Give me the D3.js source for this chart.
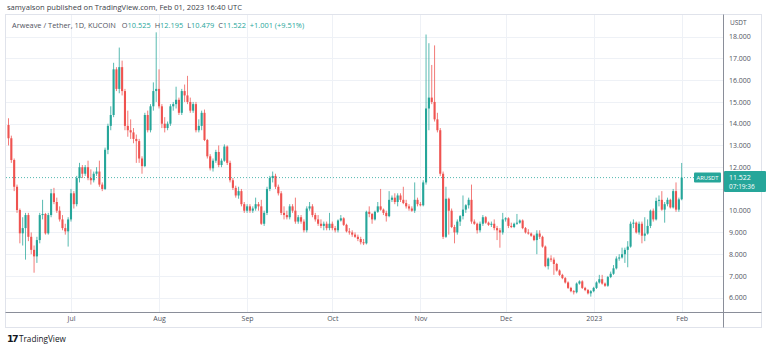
<!DOCTYPE html>
<html><head><meta charset="utf-8">
<script src="https://cdn.jsdelivr.net/npm/d3@7/dist/d3.min.js"></script>
<style>
body{margin:0;background:#fff;}
svg{display:block;font-family:"Open Sans","Noto Sans",Arial,sans-serif;}
</style>
</head><body>
<svg id="chart" width="768" height="349"></svg>
<script>
// ---------------- DATA ----------------
const firstDay = "2022-06-09";
const opens = [13.94,13.33,12.33,11.1,10.03,8.96,9.2,9.8,8.8,8.2,7.9,8.65,9.8,9.85,8.96,9.8,10.8,10.4,10.0,9.6,9.2,9.05,
 9.6,10.8,10.3,11.5,12.0,11.7,12.0,11.5,11.4,11.7,11.8,11.2,11.0,12.8,13.9,14.4,16.5,15.6,16.6,15.5,13.9,13.7,13.6,13.3,13.2,12.4,12.05,14.4,13.7,14.8,15.5,
 15.6,14.8,14.0,13.8,14.0,14.8,14.9,15.1,14.5,15.5,15.3,15.0,14.6,14.9,13.7,13.9,14.5,13.25,12.5,11.95,12.3,12.7,12.1,12.3,12.95,12.2,11.4,11.05,10.7,10.9,10.3,
 10.0,10.2,10.0,10.1,10.3,10.2,9.4,9.9,11.0,11.5,11.6,11.1,10.8,9.9,9.8,9.7,10.2,10.0,9.5,9.7,9.5,9.1,10.1,10.2,9.8,9.6,9.4,9.3,9.4,9.2,
 9.4,9.2,9.1,9.55,9.65,9.35,9.05,9.0,8.9,8.8,8.7,8.55,8.5,9.95,9.85,9.6,9.95,10.2,10.05,9.9,9.75,10.5,10.6,10.4,10.7,10.5,10.35,10.2,10.1,10.0,10.5,
 10.3,10.25,11.3,14.7,15.2,15.0,14.2,13.7,11.7,8.8,10.55,10.0,9.25,9.0,9.5,9.75,10.05,10.25,10.5,9.5,9.4,9.1,9.4,9.7,9.45,9.35,9.4,9.2,9.1,9.0,
 9.6,9.65,9.3,9.25,9.4,9.45,9.55,9.2,9.0,8.95,8.85,8.65,8.95,8.8,8.35,7.45,7.8,7.75,7.55,7.25,7.05,6.9,6.7,6.45,6.3,6.25,6.65,6.75,6.45,6.35,6.2,
 6.3,6.45,6.7,6.85,6.65,6.55,6.95,7.1,7.35,7.8,7.85,8.0,8.2,8.35,9.4,9.45,9.0,9.4,8.85,8.95,9.3,10.0,9.6,10.45,10.5,10.05,10.3,10.5,10.15,10.9,10.05,
 10.525];
const highs = [14.25,13.45,12.4,11.2,10.1,9.7,9.9,9.9,9.0,8.4,8.8,9.9,10.5,9.9,9.9,11.0,11.05,10.6,10.2,9.8,9.4,9.7,
 11.0,10.9,11.6,12.2,12.1,12.1,12.3,11.9,11.8,12.0,12.3,11.3,12.9,14.0,14.8,16.8,16.6,17.5,16.9,15.6,14.6,14.2,13.8,13.5,13.3,12.5,14.5,14.6,14.9,15.9,18.2,
 16.5,14.9,14.3,14.1,14.9,15.0,15.7,15.2,15.6,15.8,16.2,15.2,15.0,15.0,14.2,14.6,14.65,13.3,12.6,12.4,12.8,13.0,12.4,13.05,13.0,12.3,11.5,11.15,11.1,11.0,10.4,
 10.3,10.3,10.2,10.6,10.4,10.5,10.0,11.1,11.6,11.8,11.7,11.2,10.9,10.2,10.0,10.3,10.3,10.6,9.8,9.8,9.6,10.2,10.4,10.3,9.9,9.8,9.6,9.5,9.5,9.9,
 9.5,9.3,9.6,9.8,9.7,9.4,9.2,9.1,9.0,8.9,8.8,8.7,10.0,10.2,9.9,10.0,10.4,11.0,10.1,10.0,10.9,10.7,10.8,10.8,10.8,11.1,10.5,10.3,10.2,11.3,10.6,
 10.4,11.4,18.1,17.7,16.7,17.6,14.5,13.8,11.8,11.1,10.6,10.1,9.35,9.6,9.8,10.7,10.3,10.6,11.2,9.6,9.45,9.5,9.8,9.75,9.5,9.5,9.6,9.3,9.2,9.9,
 9.7,9.7,9.45,9.45,9.85,9.6,9.6,9.25,9.15,9.0,8.9,9.1,9.1,8.85,8.4,7.85,7.95,7.85,7.6,7.3,7.1,6.95,6.75,6.5,6.35,6.7,6.8,6.8,6.5,6.4,6.35,
 6.5,6.75,7.05,7.05,6.7,7.0,7.2,7.5,7.9,8.0,8.3,8.3,8.6,9.5,9.6,9.5,9.5,9.5,9.7,9.6,10.05,10.1,10.6,10.7,10.9,10.4,10.6,10.55,11.0,11.3,10.6,
 12.195];
const lows = [13.0,12.2,10.9,9.9,8.5,8.4,7.75,8.6,8.0,7.15,7.6,8.5,9.6,8.9,8.9,9.7,10.3,9.9,9.5,9.1,8.9,8.35,
 9.5,10.1,10.2,11.3,11.5,11.6,11.4,11.2,11.3,11.6,11.1,10.9,10.95,12.6,13.7,14.3,15.5,15.4,15.3,13.7,13.4,13.3,13.1,12.2,12.2,11.7,12.0,13.6,13.6,14.6,15.0,
 14.7,13.8,13.6,13.7,13.9,14.6,14.7,14.4,14.4,15.0,14.9,14.5,14.5,13.6,13.6,13.7,13.2,12.4,11.85,11.8,12.2,12.0,12.0,12.25,12.1,11.3,10.95,10.6,10.55,10.2,9.9,
 9.9,9.9,9.9,10.0,10.0,9.35,9.3,9.8,10.9,11.3,11.0,10.7,9.8,9.6,9.6,9.6,9.9,9.4,9.4,9.4,9.0,9.0,10.0,9.7,9.5,9.3,9.2,9.1,9.1,9.1,
 9.1,9.0,9.0,9.5,9.3,9.0,8.9,8.8,8.75,8.6,8.45,8.42,8.45,9.7,9.4,9.55,9.9,10.0,9.8,9.5,9.7,10.4,10.3,10.2,10.4,10.3,10.1,10.0,9.95,9.9,10.2,
 10.2,10.2,11.2,13.7,14.9,14.1,13.6,11.6,8.7,8.75,8.9,9.2,8.5,8.9,9.3,9.6,9.9,10.1,9.4,9.35,8.95,9.0,9.3,9.4,9.3,9.25,9.1,8.65,8.3,8.9,
 9.5,9.2,9.2,9.2,9.35,9.4,9.15,8.95,8.9,8.8,8.6,8.0,8.7,8.3,7.4,7.3,7.65,7.05,7.2,7.0,6.85,6.65,6.4,6.25,6.15,6.2,6.6,6.4,6.3,6.15,6.05,
 6.25,6.4,6.65,6.6,6.5,6.5,6.9,7.05,7.3,7.7,7.8,7.6,7.4,8.3,9.2,8.95,8.9,8.5,8.6,8.9,9.2,9.5,9.55,10.2,10.0,9.45,10.2,10.1,10.1,9.95,9.95,
 10.479];
const closes = [13.33,12.33,11.1,10.03,8.96,9.2,9.8,8.8,8.2,7.9,8.65,9.8,9.85,8.96,9.8,10.8,10.4,10.0,9.6,9.2,9.05,9.6,
 10.8,10.3,11.5,12.0,11.7,12.0,11.5,11.4,11.7,11.8,11.2,11.0,12.8,13.9,14.4,16.5,15.6,16.6,15.5,13.9,13.7,13.6,13.3,13.2,12.4,12.05,14.4,13.7,14.8,15.5,15.6,
 14.8,14.0,13.8,14.0,14.8,14.9,15.1,14.5,15.5,15.3,15.0,14.6,14.9,13.7,13.9,14.5,13.25,12.5,11.95,12.3,12.7,12.1,12.3,12.95,12.2,11.4,11.05,10.7,10.9,10.3,10.0,
 10.2,10.0,10.1,10.3,10.2,9.4,9.9,11.0,11.5,11.6,11.1,10.8,9.9,9.8,9.7,10.2,10.0,9.5,9.7,9.5,9.1,10.1,10.2,9.8,9.6,9.4,9.3,9.4,9.2,9.4,
 9.2,9.1,9.55,9.65,9.35,9.05,9.0,8.9,8.8,8.7,8.55,8.5,9.95,9.85,9.6,9.95,10.2,10.05,9.9,9.75,10.5,10.6,10.4,10.7,10.5,10.35,10.2,10.1,10.0,10.5,10.3,
 10.25,11.3,14.7,15.2,15.0,14.2,13.7,11.7,8.8,10.55,10.0,9.25,9.0,9.5,9.75,10.05,10.25,10.5,9.5,9.4,9.1,9.4,9.7,9.45,9.35,9.4,9.2,9.1,9.0,9.6,
 9.65,9.3,9.25,9.4,9.45,9.55,9.2,9.0,8.95,8.85,8.65,8.95,8.8,8.35,7.45,7.8,7.75,7.55,7.25,7.05,6.9,6.7,6.45,6.3,6.25,6.65,6.75,6.45,6.35,6.2,6.3,
 6.45,6.7,6.85,6.65,6.55,6.95,7.1,7.35,7.8,7.85,8.0,8.2,8.35,9.4,9.45,9.0,9.4,8.85,8.95,9.3,10.0,9.6,10.45,10.5,10.05,10.3,10.5,10.15,10.9,10.05,10.521,
 11.522];
const priceTicks = [6,7,8,9,10,11,12,13,14,15,16,17,18];
const monthTicks = ["2022-07-01","2022-08-01","2022-09-01","2022-10-01","2022-11-01","2022-12-01","2023-01-01","2023-02-01"];
const monthLabels = ["Jul","Aug","Sep","Oct","Nov","Dec","2023","Feb"];
const lastPrice = 11.522;
const countdown = "07:19:36";
const symbolLabel = "ARUSDT";

// ---------------- LAYOUT ----------------
const UP = "#26a69a", DOWN = "#ef5350";
const svg = d3.select("#chart");
const parse = d3.utcParse("%Y-%m-%d");
const d0 = parse(firstDay);
const data = closes.map((c, i) => ({date: d3.utcDay.offset(d0, i), o: opens[i], h: highs[i], l: lows[i], c}));

const plot = {left: 6, right: 723, top: 15, bottom: 312};
const x = d3.scaleUtc().domain([d0, parse("2023-02-01")]).range([8.5, 681.7]);
const y = d3.scaleLinear().domain([6, 18]).range([297.7, 36.7]);

// frame
svg.append("rect").attr("x", 5.5).attr("y", 14.5).attr("width", 756).attr("height", 313)
  .attr("fill", "none").attr("stroke", "#e0e3eb");

// grid
const g = svg.append("g");
g.selectAll(".hg").data(priceTicks).join("line")
  .attr("x1", plot.left).attr("x2", plot.right)
  .attr("y1", d => Math.round(y(d)) + 0.5).attr("y2", d => Math.round(y(d)) + 0.5)
  .attr("stroke", "#eef1f6");
g.selectAll(".vg").data(monthTicks).join("line")
  .attr("x1", d => Math.round(x(parse(d))) + 0.5).attr("x2", d => Math.round(x(parse(d))) + 0.5)
  .attr("y1", plot.top).attr("y2", plot.bottom)
  .attr("stroke", "#eef1f6");

// candles
const cg = svg.append("g");
cg.selectAll(".wick").data(data).join("line")
  .attr("x1", d => x(d.date)).attr("x2", d => x(d.date))
  .attr("y1", d => y(d.h)).attr("y2", d => y(d.l))
  .attr("stroke", d => d.c >= d.o ? UP : DOWN).attr("stroke-width", 0.9).attr("opacity", 0.85);
cg.selectAll(".body").data(data).join("rect")
  .attr("x", d => x(d.date) - 1.05).attr("width", 2.1)
  .attr("y", d => y(Math.max(d.o, d.c)))
  .attr("height", d => Math.max(0.8, Math.abs(y(d.o) - y(d.c))))
  .attr("fill", d => d.c >= d.o ? UP : DOWN);

// last price dotted line
svg.append("line").attr("x1", plot.left).attr("x2", plot.right)
  .attr("y1", y(lastPrice)).attr("y2", y(lastPrice))
  .attr("stroke", UP).attr("stroke-width", 0.8).attr("stroke-dasharray", "1,2");

// price axis separator & time axis separator
svg.append("line").attr("x1", plot.right + 0.5).attr("x2", plot.right + 0.5).attr("y1", 14.5).attr("y2", 327.5).attr("stroke", "#8a8e99");
svg.append("line").attr("x1", 5.5).attr("x2", 761.5).attr("y1", plot.bottom + 0.5).attr("y2", plot.bottom + 0.5).attr("stroke", "#8a8e99");

// price axis
const yAxis = d3.axisRight(y).tickValues(priceTicks.filter(v => v !== 11))
  .tickFormat(d3.format(".3f")).tickSize(0).tickPadding(6);
const ya = svg.append("g").attr("transform", `translate(${plot.right},0)`).call(yAxis);
ya.select(".domain").remove();
ya.selectAll("text").attr("font-size", 7).attr("fill", "#50535e").attr("font-family", "Open Sans, sans-serif");

svg.append("text").attr("x", 730).attr("y", 25).text("USDT")
  .attr("font-size", 6.5).attr("fill", "#50535e");

// time axis
const xAxis = d3.axisBottom(x).tickValues(monthTicks.map(parse))
  .tickFormat((d, i) => monthLabels[i]).tickSize(0).tickPadding(4);
const xa = svg.append("g").attr("transform", `translate(0,${plot.bottom})`).call(xAxis);
xa.select(".domain").remove();
xa.selectAll("text").attr("font-size", 7).attr("fill", "#50535e").attr("font-family", "Open Sans, sans-serif");

// price label on axis
const py = y(lastPrice);
svg.append("rect").attr("x", 724).attr("y", py - 6.5).attr("width", 42).attr("height", 21).attr("fill", UP).attr("rx", 1);
svg.append("text").attr("x", 729).attr("y", py + 2.3).text(d3.format(".3f")(lastPrice))
  .attr("font-size", 7).attr("fill", "#fff");
svg.append("text").attr("x", 729).attr("y", py + 11).text(countdown)
  .attr("font-size", 6.5).attr("fill", "#fff");
// symbol label
svg.append("rect").attr("x", 694).attr("y", py - 5).attr("width", 27).attr("height", 10).attr("fill", UP).attr("rx", 1);
svg.append("text").attr("x", 707.5).attr("y", py + 2.2).attr("text-anchor", "middle").text(symbolLabel)
  .attr("font-size", 5.8).attr("fill", "#fff");

// header
svg.append("text").attr("x", 7).attr("y", 10).text("samyalson published on TradingView.com, Feb 01, 2023 16:40 UTC")
  .attr("font-size", 7.6).attr("fill", "#3b3e48");

// legend
const last = data[data.length - 1];
const prev = data[data.length - 2];
const chg = last.c - prev.c;
const leg = svg.append("text").attr("x", 12).attr("y", 27.5).attr("font-size", 7.4);
leg.append("tspan").text("Arweave / Tether, 1D, KUCOIN").attr("fill", "#50535e");
const fmt = d3.format(".3f");
[["O", last.o], ["H", last.h], ["L", last.l], ["C", last.c]].forEach(([k, v], i) => {
  leg.append("tspan").attr("dx", i === 0 ? 6 : 4).text(k).attr("fill", "#50535e");
  leg.append("tspan").text(fmt(v)).attr("fill", UP);
});
leg.append("tspan").attr("dx", 4).text(`+${fmt(chg)} (+${d3.format(".2f")(chg / prev.c * 100)}%)`).attr("fill", UP);

// footer logo
const lg = svg.append("g").attr("transform", "translate(7,334)");
lg.append("text").attr("x", 0).attr("y", 8).text("17").attr("font-size", 9.5).attr("font-weight", 900)
  .attr("fill", "#131722").attr("font-family", "DejaVu Sans, sans-serif").attr("letter-spacing", -1.5);
lg.append("text").attr("x", 12).attr("y", 8).text("TradingView").attr("font-size", 8.2).attr("fill", "#131722");
</script>
</body></html>
